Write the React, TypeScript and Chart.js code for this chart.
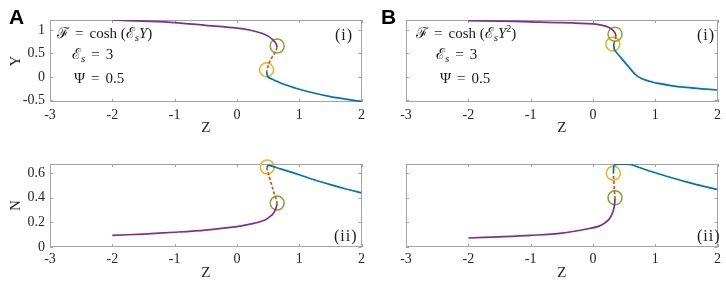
import React, { useEffect, useRef } from 'react';
import { Chart, registerables } from 'chart.js';
Chart.register(...registerables);

// ---------- axes ----------
const zTicks = [-3, -2, -1, 0, 1, 2];
const yTicksTop = [-0.5, 0, 0.5, 1];
const nTicksBottom = [0, 0.2, 0.4, 0.6];
const zRange = [-3, 2];
const yRangeTop = [-0.536, 1.214];
const nRangeBottom = [0, 0.675];

// ---------- A (i): Y vs Z ----------
const aTopPurpleZ = [-2, -1.5, -1, -0.5, 0, 0.2, 0.4, 0.5, 0.57, 0.62, 0.64, 0.645];
const aTopPurpleY = [1.214, 1.19, 1.16, 1.1, 1.04, 1.0, 0.93, 0.87, 0.8, 0.73, 0.67, 0.63];
const aTopDashZ = [0.645, 0.62, 0.59, 0.556, 0.52, 0.495, 0.48];
const aTopDashY = [0.63, 0.55, 0.47, 0.4, 0.3, 0.2, 0.12];
const aTopBlueZ = [0.48, 0.483, 0.495, 0.53, 0.6, 0.7, 0.8, 1.0, 1.25, 1.5, 1.75, 2.0];
const aTopBlueY = [0.12, 0.06, 0.01, -0.03, -0.07, -0.13, -0.18, -0.265, -0.35, -0.42, -0.475, -0.525];
const aTopGreen = [0.647, 0.66];
const aTopOrange = [0.476, 0.15];

// ---------- B (i): Y vs Z ----------
const bTopPurpleZ = [-2, -1.5, -1, -0.5, 0, 0.15, 0.25, 0.3, 0.34, 0.36, 0.37];
const bTopPurpleY = [1.2, 1.19, 1.175, 1.16, 1.13, 1.1, 1.06, 1.02, 0.97, 0.92, 0.87];
const bTopDashZ = [0.37, 0.355, 0.34];
const bTopDashY = [0.87, 0.79, 0.72];
const bTopBlueZ = [0.335, 0.338, 0.345, 0.42, 0.5, 0.58, 0.66, 0.72, 0.78, 0.85, 0.95, 1.03, 1.25, 1.5, 1.75, 2.0];
const bTopBlueY = [0.72, 0.65, 0.58, 0.455, 0.33, 0.205, 0.08, 0.01, -0.035, -0.07, -0.11, -0.135, -0.185, -0.225, -0.255, -0.28];
const bTopGreen = [0.355, 0.91];
const bTopOrange = [0.32, 0.7];

// ---------- A (ii): N vs Z ----------
const aBotPurpleZ = [-2, -1.5, -1, -0.5, 0, 0.25, 0.45, 0.55, 0.6, 0.63, 0.645];
const aBotPurpleY = [0.095, 0.105, 0.12, 0.138, 0.165, 0.19, 0.22, 0.255, 0.285, 0.32, 0.35];
const aBotDashZ = [0.645, 0.635, 0.6, 0.567, 0.52, 0.49, 0.48];
const aBotDashY = [0.35, 0.38, 0.43, 0.49, 0.57, 0.62, 0.645];
const aBotBlueZ = [0.48, 0.5, 0.55, 0.7, 1.0, 1.25, 1.5, 1.75, 2.0];
const aBotBlueY = [0.645, 0.662, 0.66, 0.635, 0.588, 0.545, 0.507, 0.472, 0.44];
const aBotGreen = [0.647, 0.357];
const aBotOrange = [0.487, 0.65];

// ---------- B (ii): N vs Z ----------
const bBotPurpleZ = [-2, -1.5, -1, -0.5, -0.03, 0.1, 0.185, 0.25, 0.29, 0.32, 0.34, 0.35, 0.355];
const bBotPurpleY = [0.073, 0.083, 0.095, 0.113, 0.153, 0.17, 0.193, 0.22, 0.25, 0.285, 0.32, 0.36, 0.39];
const bBotDashZ = [0.355, 0.345, 0.335, 0.33];
const bBotDashY = [0.39, 0.46, 0.54, 0.6];
const bBotBlueZ = [0.33, 0.332, 0.34, 0.37, 0.45, 0.6, 0.7, 0.85, 1.03, 1.25, 1.5, 1.75, 2.0];
const bBotBlueY = [0.6, 0.64, 0.662, 0.672, 0.674, 0.672, 0.655, 0.628, 0.6, 0.565, 0.53, 0.497, 0.468];
const bBotGreen = [0.355, 0.4];
const bBotOrange = [0.328, 0.6];

const PURPLE = '#7E2F8E';
const BLUE = '#0072BD';
const RED = '#D95319';
const GREEN = '#77AC30';
const ORANGE = '#EDB120';
const SERIF = "'Liberation Serif', 'Times New Roman', serif";

const zip = (xs: number[], ys: number[]) => xs.map((x, i) => ({ x, y: ys[i] }));

const lineDs = (xs: number[], ys: number[], color: string, dash: number[] = []) => ({
  data: zip(xs, ys),
  showLine: true,
  borderColor: color,
  backgroundColor: color,
  borderWidth: 1.7,
  borderDash: dash,
  pointRadius: 0,
  tension: 0.3,
});

const circleDs = (pt: number[], color: string) => ({
  data: [{ x: pt[0], y: pt[1] }],
  showLine: false,
  pointRadius: 7,
  pointBorderWidth: 1.5,
  pointBorderColor: color,
  pointBackgroundColor: 'rgba(0,0,0,0)',
  clip: false as any,
});

const boxPlugin = {
  id: 'matlabBox',
  beforeDatasetsDraw(chart: any) {
    const { ctx, chartArea } = chart;
    const { left, right, top, bottom } = chartArea;
    const xs = chart.scales.x;
    const ys = chart.scales.y;
    ctx.save();
    ctx.strokeStyle = '#a3a3a3';
    ctx.lineWidth = 1;
    ctx.strokeRect(Math.round(left) + 0.5, Math.round(top) + 0.5, Math.round(right - left) - 1, Math.round(bottom - top) - 1);
    ctx.beginPath();
    const L = 3;
    xs.ticks.forEach((t: any) => {
      const px = Math.round(xs.getPixelForValue(t.value)) + 0.5;
      ctx.moveTo(px, bottom);
      ctx.lineTo(px, bottom - L);
      ctx.moveTo(px, top);
      ctx.lineTo(px, top + L);
    });
    ys.ticks.forEach((t: any) => {
      const py = Math.round(ys.getPixelForValue(t.value)) + 0.5;
      ctx.moveTo(left, py);
      ctx.lineTo(left + L, py);
      ctx.moveTo(right, py);
      ctx.lineTo(right - L, py);
    });
    ctx.stroke();
    ctx.restore();
  },
};

type PanelProps = {
  left: number; top: number; width: number; height: number;
  pad: { left: number; right: number; top: number; bottom: number };
  yWidth: number; xHeight: number;
  yRange: number[]; yTicks: number[];
  showYLabels: boolean; yTitle?: string;
  xTickPad: number; xTitlePad: number;
  datasets: any[];
};

function Panel(p: PanelProps) {
  const ref = useRef<HTMLCanvasElement>(null);
  useEffect(() => {
    const chart = new Chart(ref.current as HTMLCanvasElement, {
      type: 'scatter',
      data: { datasets: p.datasets },
      plugins: [boxPlugin],
      options: {
        animation: false,
        responsive: false,
        devicePixelRatio: 1,
        layout: { padding: p.pad },
        plugins: { legend: { display: false }, tooltip: { enabled: false } },
        scales: {
          x: {
            type: 'linear',
            min: zRange[0],
            max: zRange[1],
            afterBuildTicks: (s: any) => { s.ticks = zTicks.map((v) => ({ value: v })); },
            afterFit: (s: any) => { s.height = p.xHeight; },
            grid: { display: false, drawTicks: false },
            border: { display: false },
            ticks: {
              padding: p.xTickPad,
              color: '#262626',
              font: { family: SERIF, size: 14 },
              maxRotation: 0,
              autoSkip: false,
              callback: (v: any) => String(v),
            },
            title: {
              display: true,
              text: 'Z',
              color: '#262626',
              font: { family: SERIF, size: 15, lineHeight: 1 },
              padding: { top: 0, bottom: p.xTitlePad },
            },
          },
          y: {
            type: 'linear',
            min: p.yRange[0],
            max: p.yRange[1],
            afterBuildTicks: (s: any) => { s.ticks = p.yTicks.map((v) => ({ value: v })); },
            afterFit: (s: any) => { s.width = p.yWidth; },
            grid: { display: false, drawTicks: false },
            border: { display: false },
            ticks: {
              display: p.showYLabels,
              padding: 5,
              color: '#262626',
              font: { family: SERIF, size: 14 },
              autoSkip: false,
              callback: (v: any) => String(v),
            },
            title: {
              display: !!p.yTitle,
              text: p.yTitle || '',
              color: '#262626',
              font: { family: SERIF, size: 15, lineHeight: 1 },
              padding: { top: 9, bottom: 0 },
            },
          },
        },
      } as any,
    });
    return () => chart.destroy();
  }, []);
  return (
    <canvas
      ref={ref}
      width={p.width}
      height={p.height}
      style={{ position: 'absolute', left: p.left, top: p.top, width: p.width, height: p.height }}
    />
  );
}

const txt = (left: number, top: number, size: number, content: React.ReactNode, extra: any = {}) => (
  <div
    style={{
      position: 'absolute', left, top, fontSize: size, lineHeight: `${size}px`,
      fontFamily: SERIF, color: '#1a1a1a', whiteSpace: 'nowrap', ...extra,
    }}
  >
    {content}
  </div>
);

const sub = (s: string) => (
  <span style={{ fontSize: 11, fontStyle: 'italic', verticalAlign: '-3px', lineHeight: 0 }}>{s}</span>
);
const sup = (s: string) => (
  <span style={{ fontSize: 10, verticalAlign: '6px', lineHeight: 0 }}>{s}</span>
);
const it = (s: string) => <span style={{ fontStyle: 'italic' }}>{s}</span>;
const eq = <span style={{ padding: '0 6px' }}>=</span>;

export default function App() {
  const makeDatasets = (pz: number[], py: number[], dz: number[], dy: number[], bz: number[], by: number[], g: number[], o: number[]) => [
    lineDs(pz, py, PURPLE),
    lineDs(dz, dy, RED, [3, 2]),
    lineDs(bz, by, BLUE),
    circleDs(g, GREEN),
    circleDs(o, ORANGE),
  ];
  return (
    <div style={{ position: 'absolute', left: 0, top: 0, width: 726, height: 281, overflow: 'hidden', background: '#fff' }}>
      <Panel
        left={0} top={0} width={370} height={140}
        pad={{ left: 0, right: 7, top: 20, bottom: 0 }}
        yWidth={50} xHeight={38}
        yRange={yRangeTop} yTicks={yTicksTop} showYLabels={true} yTitle="Y"
        xTickPad={5} xTitlePad={4.5}
        datasets={makeDatasets(aTopPurpleZ, aTopPurpleY, aTopDashZ, aTopDashY, aTopBlueZ, aTopBlueY, aTopGreen, aTopOrange)}
      />
      <Panel
        left={0} top={140} width={370} height={141}
        pad={{ left: 0, right: 7, top: 24, bottom: 0 }}
        yWidth={50} xHeight={34}
        yRange={nRangeBottom} yTicks={nTicksBottom} showYLabels={true} yTitle="N"
        xTickPad={4} xTitlePad={0}
        datasets={makeDatasets(aBotPurpleZ, aBotPurpleY, aBotDashZ, aBotDashY, aBotBlueZ, aBotBlueY, aBotGreen, aBotOrange)}
      />
      <Panel
        left={370} top={0} width={356} height={140}
        pad={{ left: 0, right: 5, top: 20, bottom: 0 }}
        yWidth={36} xHeight={38}
        yRange={yRangeTop} yTicks={yTicksTop} showYLabels={false}
        xTickPad={5} xTitlePad={4.5}
        datasets={makeDatasets(bTopPurpleZ, bTopPurpleY, bTopDashZ, bTopDashY, bTopBlueZ, bTopBlueY, bTopGreen, bTopOrange)}
      />
      <Panel
        left={370} top={140} width={356} height={141}
        pad={{ left: 0, right: 5, top: 24, bottom: 0 }}
        yWidth={36} xHeight={34}
        yRange={nRangeBottom} yTicks={nTicksBottom} showYLabels={false}
        xTickPad={4} xTitlePad={0}
        datasets={makeDatasets(bBotPurpleZ, bBotPurpleY, bBotDashZ, bBotDashY, bBotBlueZ, bBotBlueY, bBotGreen, bBotOrange)}
      />

      {txt(9, 6, 21, 'A', { fontFamily: "'Liberation Sans', Arial, sans-serif", fontWeight: 'bold', color: '#000' })}
      {txt(381, 6, 21, 'B', { fontFamily: "'Liberation Sans', Arial, sans-serif", fontWeight: 'bold', color: '#000' })}

      {txt(57, 26, 15, <>ℱ{eq}cosh (ℰ{sub('s')}{it('Y')})</>)}
      {txt(72, 47, 15, <>ℰ{sub('s')}{eq}3</>)}
      {txt(74, 71, 15, <>Ψ{eq}0.5</>)}
      {txt(335, 27, 16, '(i)', { letterSpacing: '1px' })}
      {txt(334, 228, 16, '(ii)', { letterSpacing: '1px' })}

      {txt(416, 26, 15, <>ℱ{eq}cosh (ℰ{sub('s')}{it('Y')}{sup('2')})</>)}
      {txt(436, 47, 15, <>ℰ{sub('s')}{eq}3</>)}
      {txt(440, 71, 15, <>Ψ{eq}0.5</>)}
      {txt(697, 27, 16, '(i)', { letterSpacing: '1px' })}
      {txt(697, 228, 16, '(ii)', { letterSpacing: '1px' })}
    </div>
  );
}
